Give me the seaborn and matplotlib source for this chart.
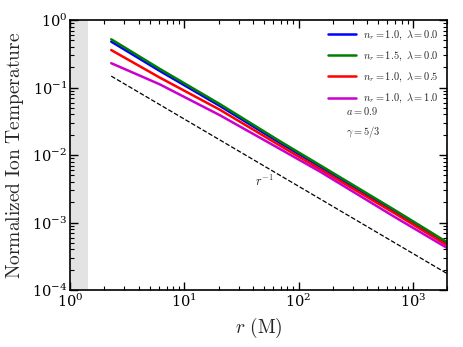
import numpy as np
import pandas as pd
import seaborn as sns
import matplotlib
matplotlib.use("Agg")
import matplotlib.pyplot as plt

# Data
r_pts = [2.3, 6.1, 20.5, 69.0, 154.0, 700.0, 2000.0]
T_nr10_l00 = [0.48, 0.177, 0.0535, 0.0151, 6.75e-3, 1.45e-3, 4.85e-4]
T_nr15_l00 = [0.52, 0.19, 0.057, 0.016, 7.1e-3, 1.52e-3, 5.1e-4]
T_nr10_l05 = [0.36, 0.141, 0.047, 0.0138, 6.2e-3, 1.36e-3, 4.6e-4]
T_nr10_l10 = [0.23, 0.112, 0.039, 0.0123, 5.7e-3, 1.2e-3, 4.2e-4]
r_ref = [2.3, 2000.0]
T_ref = [0.148, 1.75e-4]
labels = [r'$n_r=1.0,\ \lambda=0.0$', r'$n_r=1.5,\ \lambda=0.0$',
          r'$n_r=1.0,\ \lambda=0.5$', r'$n_r=1.0,\ \lambda=1.0$']
colors = ['#0000ff', '#008000', '#ff0000', '#cc00cc']
r_horizon = 1.436

sns.set_theme(style="ticks")
plt.rcParams['mathtext.fontset'] = 'cm'
plt.rcParams['font.family'] = ['DejaVu Serif']
plt.rcParams['axes.formatter.use_mathtext'] = True

frames = []
for lab, vals in zip(labels, [T_nr10_l00, T_nr15_l00, T_nr10_l05, T_nr10_l10]):
    frames.append(pd.DataFrame({'r': r_pts, 'T': vals, 'model': lab}))
df = pd.concat(frames, ignore_index=True)

fig, ax = plt.subplots(figsize=(4.63, 3.47), dpi=100)
fig.subplots_adjust(left=0.151, right=0.966, top=0.942, bottom=0.164)

ax.axvspan(1.0, r_horizon, color='#e3e3e3', lw=0, zorder=0)
sns.lineplot(data=df, x='r', y='T', hue='model', palette=colors,
             hue_order=labels, lw=1.8, ax=ax, legend=True)
sns.lineplot(x=r_ref, y=T_ref, color='black', lw=0.9, ls='--', ax=ax, legend=False)

ax.set_xscale('log')
ax.set_yscale('log')
ax.set_xlim(1, 2000)
ax.set_ylim(1e-4, 1)
ax.set_xlabel(r'$r\ (\mathrm{M})$', fontsize=14)
ax.set_ylabel(r'$\mathrm{Normalized\ Ion\ Temperature}$', fontsize=14)

ax.tick_params(which='both', direction='in', bottom=True, left=True,
               top=True, right=True, color='black', labelcolor='black')
ax.tick_params(which='major', length=6, width=1, labelsize=10.5, pad=2)
ax.tick_params(which='minor', length=3, width=0.8)
for s in ax.spines.values():
    s.set_visible(True)
    s.set_color('black')
    s.set_linewidth(1.2)

ax.text(50, 4.1e-3, r'$r^{-1}$', fontsize=9, ha='center', va='center')
ax.text(0.732, 0.663, r'$a=0.9$', transform=ax.transAxes, fontsize=7.5, va='center')
ax.text(0.732, 0.585, r'$\gamma=5/3$', transform=ax.transAxes, fontsize=7.5, va='center')

leg = ax.legend(loc='upper right', frameon=False, fontsize=7.5,
                handlelength=2.7, handletextpad=0.7, labelspacing=0.75,
                borderaxespad=0.4)

fig.savefig('out.png', dpi=100)
